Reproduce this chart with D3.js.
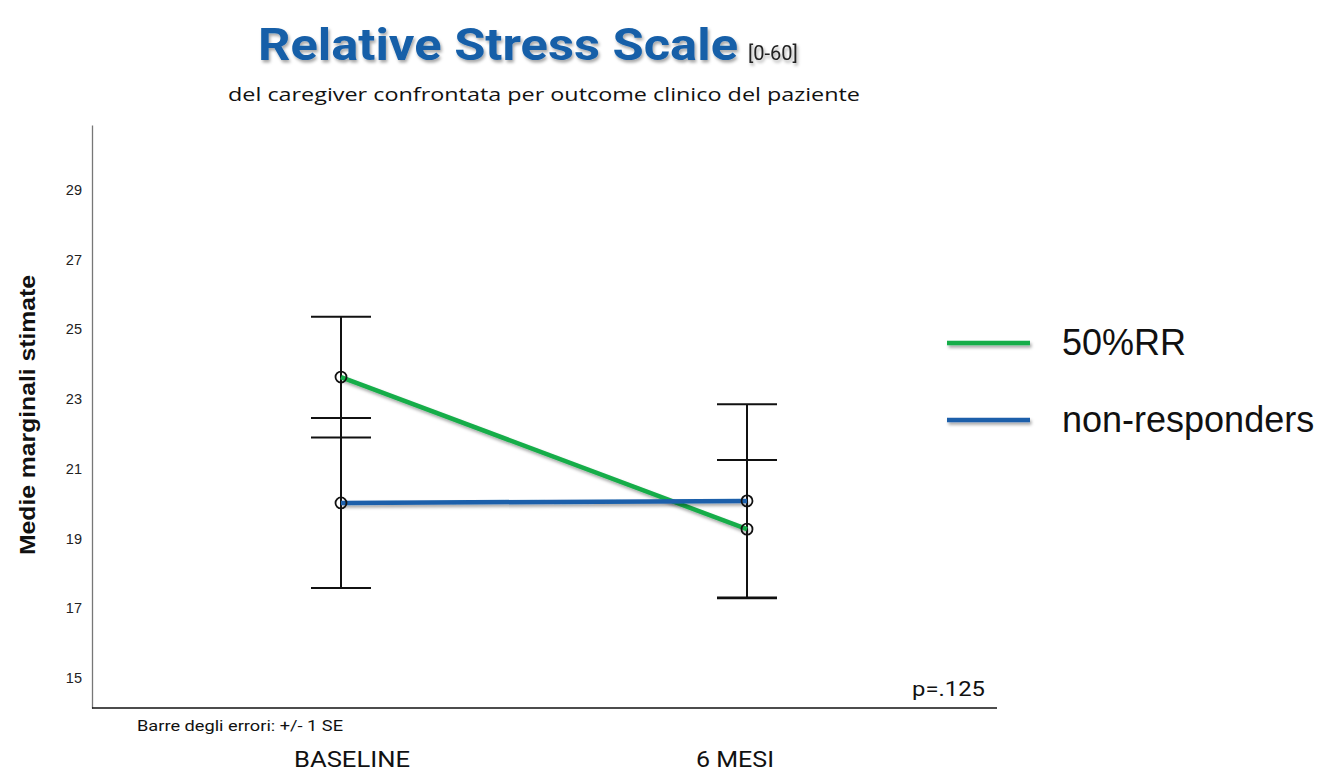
<!DOCTYPE html>
<html>
<head>
<meta charset="utf-8">
<script src="https://cdn.jsdelivr.net/npm/d3@7"></script>
<style>
  html, body { margin: 0; padding: 0; background: #fff; }
  svg { display: block; }
</style>
</head>
<body>
<svg id="chart" width="1327" height="774"></svg>
<script>
// Time points and estimated marginal means (± 1 SE) per group
const timepoints = ["BASELINE", "6 MESI"];
const groups = ["50%RR", "non-responders"];
const meansRR = [23.63, 19.27];
const seRR = [1.73, 1.98];
const meansNR = [20.02, 20.08];
const seNR = [2.44, 2.77];
const yTicks = [15, 17, 19, 21, 23, 25, 27, 29];
const colors = ["#16ad4a", "#1a5faa"];

const series = [
  { name: groups[0], color: colors[0], values: meansRR.map((m, i) => ({ t: timepoints[i], m, se: seRR[i] })) },
  { name: groups[1], color: colors[1], values: meansNR.map((m, i) => ({ t: timepoints[i], m, se: seNR[i] })) }
];

const W = 1327, H = 774;
const svg = d3.select("#chart");

// Soft drop shadow used by the lines and the title
const defs = svg.append("defs");
const f = defs.append("filter").attr("id", "shadow")
  .attr("filterUnits", "userSpaceOnUse")
  .attr("x", 0).attr("y", 0).attr("width", W).attr("height", H);
f.append("feDropShadow").attr("dx", 1.5).attr("dy", 2.5).attr("stdDeviation", 1.5)
  .attr("flood-color", "#000").attr("flood-opacity", 0.35);

const x = d3.scalePoint().domain(timepoints).range([341, 747]);
const y = d3.scaleLinear().domain([14.14, 30.86]).range([708, 125]);

// Title
const title = svg.append("text")
  .attr("x", 258).attr("y", 60)
  .attr("font-family", "Roboto, 'Open Sans', sans-serif")
  .attr("font-weight", "bold")
  .attr("filter", "url(#shadow)");
title.append("tspan").attr("font-size", 44).attr("fill", "#155fa8").attr("textLength", 480).attr("lengthAdjust", "spacingAndGlyphs").text("Relative Stress Scale");
title.append("tspan").attr("dx", 10).attr("font-size", 20).attr("font-weight", "normal").attr("fill", "#222").text("[0-60]");

svg.append("text")
  .attr("x", 228).attr("y", 101)
  .attr("font-family", "'Open Sans', Roboto, sans-serif")
  .attr("font-size", 18.5).attr("fill", "#111")
  .attr("textLength", 632).attr("lengthAdjust", "spacingAndGlyphs")
  .text("del caregiver confrontata per outcome clinico del paziente");

// Axes
const yAxis = d3.axisLeft(y).tickValues(yTicks).tickSize(0).tickPadding(10).tickFormat(d3.format("d"));
const gy = svg.append("g").attr("transform", "translate(92,0)").call(yAxis);
gy.select(".domain").attr("stroke", "#777").attr("stroke-width", 1.3);
gy.selectAll("text").attr("font-family", "'Liberation Sans', Arial, sans-serif").attr("font-size", 14.5).attr("fill", "#222");

svg.append("line")
  .attr("x1", 92).attr("x2", 997).attr("y1", y(14.14)).attr("y2", y(14.14))
  .attr("stroke", "#111").attr("stroke-width", 1.5);

svg.append("text")
  .attr("transform", "translate(35,415) rotate(-90)")
  .attr("text-anchor", "middle")
  .attr("font-family", "'Liberation Sans', Arial, sans-serif")
  .attr("font-weight", "bold").attr("font-size", 22).attr("fill", "#111")
  .attr("textLength", 280).attr("lengthAdjust", "spacingAndGlyphs")
  .text("Medie marginali stimate");

// Category labels under the plot
const catWidths = [116, 78];
svg.selectAll("text.cat").data(timepoints).join("text")
  .attr("class", "cat")
  .attr("x", (d, i) => x(d) + (i === 0 ? 11 : -12))
  .attr("y", 767)
  .attr("text-anchor", "middle")
  .attr("font-family", "Roboto, sans-serif")
  .attr("font-size", 22).attr("fill", "#111")
  .attr("textLength", (d, i) => catWidths[i]).attr("lengthAdjust", "spacingAndGlyphs")
  .text(d => d);

svg.append("text")
  .attr("x", 137).attr("y", 731)
  .attr("font-family", "Roboto, sans-serif")
  .attr("font-size", 14).attr("fill", "#111")
  .attr("textLength", 206).attr("lengthAdjust", "spacingAndGlyphs")
  .text("Barre degli errori: +/- 1 SE");

svg.append("text")
  .attr("x", 912).attr("y", 696)
  .attr("font-family", "Roboto, sans-serif")
  .attr("font-size", 21).attr("fill", "#111")
  .attr("textLength", 73).attr("lengthAdjust", "spacingAndGlyphs")
  .text("p=.125");

// Error bars
const capHalf = 30;
const eb = svg.append("g").attr("stroke", "#111").attr("stroke-width", 2);
series.forEach(s => {
  s.values.forEach(v => {
    const cx = x(v.t);
    eb.append("line").attr("x1", cx).attr("x2", cx).attr("y1", y(v.m + v.se)).attr("y2", y(v.m - v.se));
    [v.m + v.se, v.m - v.se].forEach(e => {
      eb.append("line").attr("x1", cx - capHalf).attr("x2", cx + capHalf).attr("y1", y(e)).attr("y2", y(e));
    });
  });
});

// Group lines
const line = d3.line().x(d => x(d.t)).y(d => y(d.m));
svg.append("g").selectAll("path").data(series).join("path")
  .attr("d", d => line(d.values))
  .attr("fill", "none")
  .attr("stroke", d => d.color)
  .attr("stroke-width", 4.5)
  .attr("filter", "url(#shadow)");

// Mean markers
series.forEach(s => {
  svg.append("g").selectAll("circle").data(s.values).join("circle")
    .attr("cx", d => x(d.t)).attr("cy", d => y(d.m)).attr("r", 5.5)
    .attr("fill", "none").attr("stroke", "#111").attr("stroke-width", 1.8);
});

// Legend
const legend = svg.append("g");
series.forEach((s, i) => {
  const ly = 343 + i * 77;
  legend.append("line").attr("x1", 947).attr("x2", 1030).attr("y1", ly).attr("y2", ly)
    .attr("stroke", s.color).attr("stroke-width", 4.5).attr("filter", "url(#shadow)");
  legend.append("text").attr("x", 1062).attr("y", ly + 12)
    .attr("font-family", "'Liberation Sans', Arial, sans-serif")
    .attr("font-size", 36).attr("fill", "#111")
    .text(s.name);
});
</script>
</body>
</html>
